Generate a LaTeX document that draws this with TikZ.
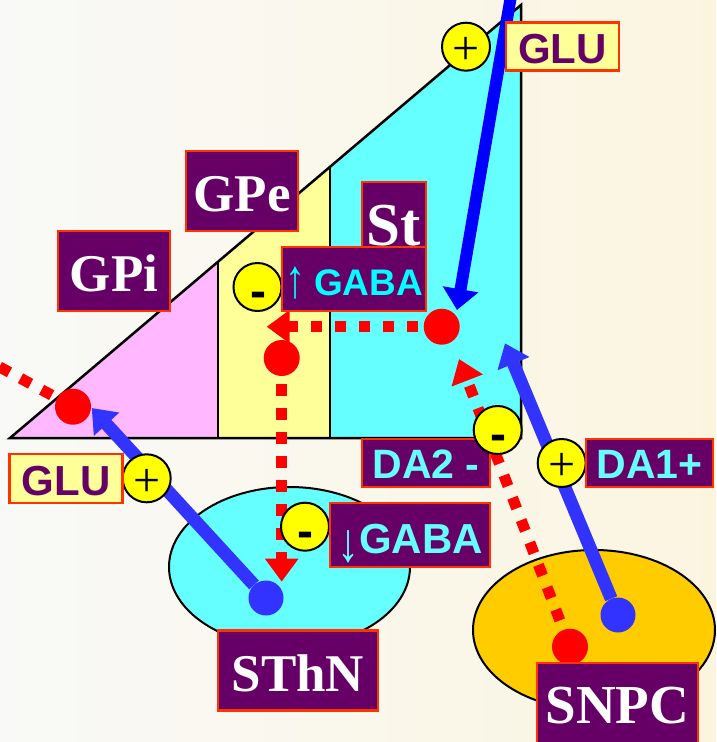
\documentclass[tikz,border=0pt]{standalone}
\usepackage{fontspec}
\setmainfont{Liberation Serif}
\newfontfamily\lsans{Liberation Sans}
\usetikzlibrary{arrows.meta,shapes.geometric}
\definecolor{bgL}{HTML}{F9F9F7}
\definecolor{bgR}{HTML}{FBF5E0}
\definecolor{cyanreg}{HTML}{66FFFF}
\definecolor{yelreg}{HTML}{FFFF99}
\definecolor{pinkreg}{HTML}{FFB8FF}
\definecolor{purp}{HTML}{660066}
\definecolor{bord}{HTML}{FF3300}
\definecolor{snpcfill}{HTML}{FFCC00}
\definecolor{blueA}{HTML}{3333FF}
\definecolor{blueB}{HTML}{0000FF}
\definecolor{txtcyan}{HTML}{66FFFF}
\definecolor{gabacyan}{HTML}{00FFFF}
\definecolor{signyel}{HTML}{FFFF00}
\begin{document}
\begin{tikzpicture}[x=1pt,y=-1pt,
  outline/.style={draw=black,line width=2.5pt,line join=miter},
  rdot/.style={circle,fill=red,minimum size=36pt,inner sep=0pt},
  bdot/.style={circle,fill=blueA,minimum size=35pt,inner sep=0pt},
  bluearr/.style={draw=blueA,line width=13pt,-{Triangle[length=22pt,width=33pt]}},
  reddash/.style={draw=red,line width=11pt,dash pattern=on 11.5pt off 12.5pt},
  redarr/.style={reddash,-{Triangle[length=23pt,width=32pt]}},
  sign/.style={circle,fill=signyel,draw=black,line width=2pt,minimum size=48pt,inner sep=0pt},
  plustxt/.style={anchor=base,inner sep=0pt,font=\fontsize{48}{48}\selectfont},
  minustxt/.style={anchor=base,inner sep=0pt,font=\lsans\bfseries\fontsize{48}{48}\selectfont},
  plab/.style={draw=bord,fill=purp,line width=2.5pt,text=white,inner sep=0pt,text depth=0pt,
    font=\bfseries\fontsize{53}{53}\selectfont},
  ylab/.style={draw=bord,fill=yelreg,line width=2.5pt,text=purp,inner sep=0pt,text depth=0pt,
    font=\lsans\bfseries\fontsize{42}{42}\selectfont},
  clab/.style={draw=bord,fill=purp,line width=2.5pt,text=txtcyan,inner sep=0pt,text depth=0pt,
    font=\lsans\bfseries\fontsize{41}{41}\selectfont}]
\useasboundingbox (0,0) rectangle (716,742);
\shade[left color=bgL,right color=bgR] (0,0) rectangle (716,742);
\clip (0,0) rectangle (716,742);
% regions
\fill[pinkreg] (10,438) -- (218,438) -- (218,261.75) -- cycle;
\fill[yelreg] (218,438) -- (330,438) -- (330,166.84) -- (218,261.75) -- cycle;
\fill[cyanreg] (330,438) -- (521,438) -- (521,5) -- (330,166.84) -- cycle;
\draw[outline] (10,438) -- (521,5) -- (521,438) -- cycle;
\draw[outline] (218,438) -- (218,261.75);
\draw[outline] (330,438) -- (330,166.84);
% nuclei
\node[ellipse,draw=black,line width=2pt,fill=cyanreg,minimum width=241pt,minimum height=160pt] (sthnell) at (289.5,567) {};
\node[ellipse,draw=black,line width=2pt,fill=snpcfill,minimum width=242pt,minimum height=160pt] (snpcell) at (594,630) {};
% dots
\node[rdot] (dSt) at (441.7,326.7) {};
\node[rdot] (dGPe) at (281.7,358) {};
\node[rdot] (dGPi) at (73,406.7) {};
\node[rdot] (dSNr) at (570,646.7) {};
\node[bdot] (dSTN) at (266,598) {};
\node[bdot] (dSNb) at (618,615) {};
% free ends
\coordinate (topin) at (512,-10);
\coordinate (toptip) at (457,310);
\coordinate (gpitip) at (91.7,408);
\coordinate (da1tip) at (505,343.3);
\coordinate (gpetip) at (266.7,326.7);
\coordinate (sthntip) at (281.7,581.7);
\coordinate (da2tip) at (459,359);
\coordinate (gpiout) at (-41,345);
% connectors
\draw[reddash,dash phase=18pt] (dGPi) -- (gpiout);
\draw[redarr,dash phase=18.5pt] (dSt) -- (gpetip);
\draw[redarr,dash phase=16pt] (dGPe) -- (sthntip);
\draw[redarr,dash phase=14pt] (dSNr) -- (da2tip);
\draw[bluearr,draw=blueB,line width=12pt,-{Triangle[length=21pt,width=35pt]}] (topin) -- (toptip);
\draw[bluearr] (dSTN) -- (gpitip);
\draw[bluearr] (dSNb) -- (da1tip);
% sign circles
\node[sign] (sGLUt) at (466,46.7) {};
\node[plustxt] at (466,64) {+};
\node[sign] (sGLUl) at (146.7,478.3) {};
\node[plustxt] at (146.7,496) {+};
\node[sign] (sDA1) at (561.7,463) {};
\node[plustxt] at (561.7,480) {+};
\node[sign] (sGup) at (257.5,287) {};
\node[minustxt] at (258,307) {-};
\node[sign] (sGdn) at (305,526.7) {};
\node[minustxt] at (305.5,547) {-};
% labels
\node[plab,minimum width=112pt,minimum height=80pt,text height=41.4pt] (GPe) at (242,191) {GPe};
\node[plab,minimum width=112pt,minimum height=80pt,text height=41.4pt] (GPi) at (114,271) {GPi};
\node[plab,minimum width=64pt,minimum height=82pt,text height=44pt,font=\bfseries\fontsize{61}{61}\selectfont] (St) at (394,223) {St};
\node[clab,minimum width=144pt,minimum height=64pt,text height=32pt,text=gabacyan,font=\lsans\bfseries\fontsize{37}{37}\selectfont] (GABAup) at (354,279) {\raisebox{-2pt}{\scalebox{1}[1.36]{\mdseries\fontsize{40}{40}\selectfont ↑}}\hspace{9pt}GABA};
\node[clab,minimum width=160pt,minimum height=64pt,text height=37pt,font=\lsans\bfseries\fontsize{42}{42}\selectfont] (GABAdn) at (410,535) {\raisebox{-8pt}{\scalebox{1}[1.25]{\mdseries\fontsize{44}{44}\selectfont ↓}}GABA};
\node[plab,minimum width=160pt,minimum height=80pt,text height=42pt] (SThN) at (298,670.7) {SThN};
\node[plab,minimum width=161pt,minimum height=84pt,text height=37pt,font=\bfseries\fontsize{55}{55}\selectfont] (SNPC) at (617.5,705) {SNPC};
\node[ylab,minimum width=113pt,minimum height=48pt,text height=33.2pt] (GLUt) at (562.5,46.7) {GLU};
\node[ylab,minimum width=113pt,minimum height=49pt,text height=33pt] (GLUl) at (66,478.5) {GLU};
\node[clab,minimum width=128pt,minimum height=48pt,text height=30.6pt] (DA2) at (426,463) {DA2 -};
\node[sign] (sDA2) at (497.7,430) {};
\node[minustxt] at (498,450) {-};
\node[clab,minimum width=127pt,minimum height=48pt,text height=30.6pt] (DA1) at (649.5,463) {DA1+};
\end{tikzpicture}
\end{document}
